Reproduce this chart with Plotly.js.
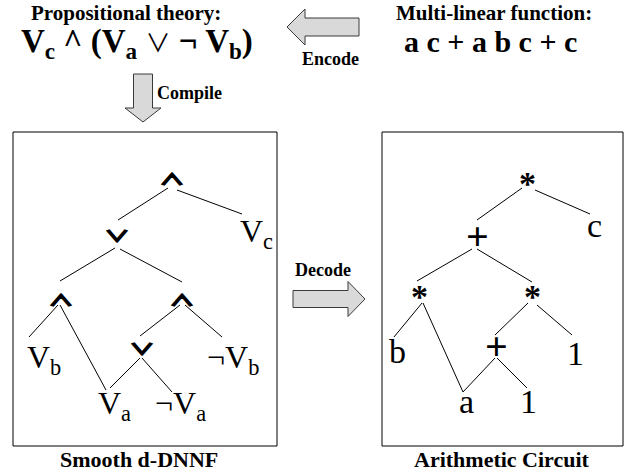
<!DOCTYPE html>
<html>
<head>
<meta charset="utf-8">
<script src="https://cdn.plot.ly/plotly-3.0.1.min.js"></script>
<style>html,body{margin:0;padding:0;background:#fff;}#chart{width:628px;height:473px;}</style>
</head>
<body>
<div id="chart"></div>
<script>
// ---- Diagram content (labels) ----
const headings = ['Propositional theory:', 'Multi-linear function:'];
const formulas = [
  'V<sub>c</sub> ^ (V<sub>a</sub> <span style="font-family:\'Noto Sans CJK JP\';font-weight:normal;font-size:25px">∨</span> ¬ V<sub>b</sub>)',
  'a c + a b c + c'
];
const captions = ['Smooth d-DNNF', 'Arithmetic Circuit'];
const arrowLabels = ['Compile', 'Encode', 'Decode'];

// Left tree (smooth d-DNNF) nodes
const leftOps = ['∧', '∨', '∧', '∧', '∨'];
const leftOpX = [172, 117, 61, 182, 142];
const leftOpY = [178, 235, 299, 299, 348];
const leftLeaves = ['V<sub>c</sub>', 'V<sub>b</sub>', '¬V<sub>b</sub>', 'V<sub>a</sub>', '¬V<sub>a</sub>'];
const leftLeafX = [256, 44, 233, 114, 180];
const leftLeafY = [233, 359, 359, 405, 405];
// Left tree edges [x0, y0, x1, y1]
const leftEdges = [
  [168, 188, 118, 220], [177, 190, 242, 214],
  [115, 248, 60, 281], [120, 249, 182, 282],
  [58, 305, 29, 337], [60, 305, 106, 390],
  [180, 305, 140, 336], [185, 305, 222, 337],
  [140, 358, 110, 388], [142, 358, 172, 392]
];

// Right tree (arithmetic circuit) nodes
const rightOps = ['*', '+', '*', '*', '+'];
const rightOpX = [527, 477, 419, 532, 496];
const rightOpY = [183, 236, 296, 296, 346];
const rightLeaves = ['c', 'b', '1', 'a', '1'];
const rightLeafX = [594, 397, 575, 466, 528];
const rightLeafY = [225, 351, 353, 401, 401];
const rightEdges = [
  [522, 188, 477, 220], [535, 190, 590, 214],
  [472, 249, 417, 281], [477, 249, 532, 282],
  [422, 303, 394, 337], [423, 303, 463, 392],
  [528, 303, 495, 335], [537, 305, 572, 335],
  [495, 358, 463, 392], [497, 358, 527, 388]
];

// Boxes [x0, y0, x1, y1]
const boxes = [[13, 132, 277, 446], [382, 132, 623, 446]];

// ---- Build ----
const SERIF = '"Liberation Serif", "Times New Roman", serif';
const CJK = '"Noto Sans CJK JP", "DejaVu Sans", sans-serif';
const ink = '#000';

function edgeTrace(edges) {
  const xs = [], ys = [];
  edges.forEach(e => { xs.push(e[0], e[2], null); ys.push(e[1], e[3], null); });
  return { x: xs, y: ys, mode: 'lines', type: 'scatter', line: { color: ink, width: 1 }, hoverinfo: 'skip', showlegend: false };
}

function arrowPath(dir, tipX, tipY, len, headLen, headHalf, bodyHalf) {
  let pts;
  if (dir === 'down') {
    const b = tipY - headLen, t = tipY - len;
    pts = [[tipX - bodyHalf, t], [tipX + bodyHalf, t], [tipX + bodyHalf, b], [tipX + headHalf, b], [tipX, tipY], [tipX - headHalf, b], [tipX - bodyHalf, b]];
  } else if (dir === 'left') {
    const b = tipX + headLen, t = tipX + len;
    pts = [[t, tipY - bodyHalf], [t, tipY + bodyHalf], [b, tipY + bodyHalf], [b, tipY + headHalf], [tipX, tipY], [b, tipY - headHalf], [b, tipY - bodyHalf]];
  } else {
    const b = tipX - headLen, t = tipX - len;
    pts = [[t, tipY - bodyHalf], [t, tipY + bodyHalf], [b, tipY + bodyHalf], [b, tipY + headHalf], [tipX, tipY], [b, tipY - headHalf], [b, tipY - bodyHalf]];
  }
  return 'M ' + pts.map(p => p[0] + ' ' + p[1]).join(' L ') + ' Z';
}

const shapes = [];
boxes.forEach(b => shapes.push({ type: 'rect', xref: 'x', yref: 'y', x0: b[0], y0: b[1], x1: b[2], y1: b[3], line: { color: ink, width: 1 }, fillcolor: 'rgba(0,0,0,0)' }));
const arrowStyle = { fillcolor: '#d9d9d9', line: { color: '#3a3a3a', width: 1 } };
shapes.push(Object.assign({ type: 'path', xref: 'x', yref: 'y', path: arrowPath('down', 143, 122, 48, 14, 18, 9.5) }, arrowStyle));
shapes.push(Object.assign({ type: 'path', xref: 'x', yref: 'y', path: arrowPath('left', 287, 27, 72, 18, 18, 9) }, arrowStyle));
shapes.push(Object.assign({ type: 'path', xref: 'x', yref: 'y', path: arrowPath('right', 365, 299, 72, 17, 17.5, 8.5) }, arrowStyle));

const annotations = [];
function addText(text, x, y, size, bold, family, xanchor, yanchor) {
  annotations.push({
    text: bold ? '<b>' + text + '</b>' : text, x: x, y: y, xref: 'x', yref: 'y',
    showarrow: false, xanchor: xanchor || 'center', yanchor: yanchor || 'middle', borderpad: 0,
    font: { family: family || SERIF, size: size, color: ink }
  });
}
addText(headings[0], 126, 0, 21, true, SERIF, 'center', 'top');
addText(headings[1], 494, 0, 21, true, SERIF, 'center', 'top');
addText(formulas[0], 137, 43, 33, true);
addText(formulas[1], 490, 41, 30, true);
addText(arrowLabels[0], 156, 93, 18, true, SERIF, 'left');
addText(arrowLabels[1], 330, 59, 18, true);
addText(arrowLabels[2], 323, 270, 18, true);
addText(captions[0], 139, 459, 22, true);
addText(captions[1], 502, 459, 22, true);

leftOps.forEach((t, i) => addText(t, leftOpX[i], leftOpY[i], 26, true, CJK));
leftLeaves.forEach((t, i) => addText(t, leftLeafX[i], leftLeafY[i], 32, false));
rightOps.forEach((t, i) => addText(t, rightOpX[i], rightOpY[i], t === '+' ? 40 : 34, true));
rightLeaves.forEach((t, i) => addText(t, rightLeafX[i], rightLeafY[i], 34, false));

const data = [edgeTrace(leftEdges), edgeTrace(rightEdges)];
const layout = {
  width: 628, height: 473, margin: { l: 0, r: 0, t: 0, b: 0 },
  paper_bgcolor: '#fff', plot_bgcolor: '#fff', showlegend: false,
  xaxis: { range: [0, 628], visible: false, fixedrange: true },
  yaxis: { range: [473, 0], visible: false, fixedrange: true },
  shapes: shapes, annotations: annotations
};
Plotly.newPlot('chart', data, layout, { staticPlot: true, displayModeBar: false }).then(gd => {
  // flatten and thicken the logic-operator glyphs of the d-DNNF tree
  gd.querySelectorAll('.annotation-text').forEach(t => {
    const s = t.textContent;
    if (s === '∧' || s === '∨') {
      const bb = t.getBBox();
      const cx = bb.x + bb.width / 2, cy = bb.y + bb.height / 2;
      t.setAttribute('transform', 'translate(' + cx + ' ' + cy + ') scale(1 0.6) translate(' + (-cx) + ' ' + (-cy) + ')');
      t.style.stroke = '#000';
      t.style.strokeWidth = '1.6px';
      t.style.strokeLinejoin = 'miter';
    }
  });
});
</script>
</body>
</html>
